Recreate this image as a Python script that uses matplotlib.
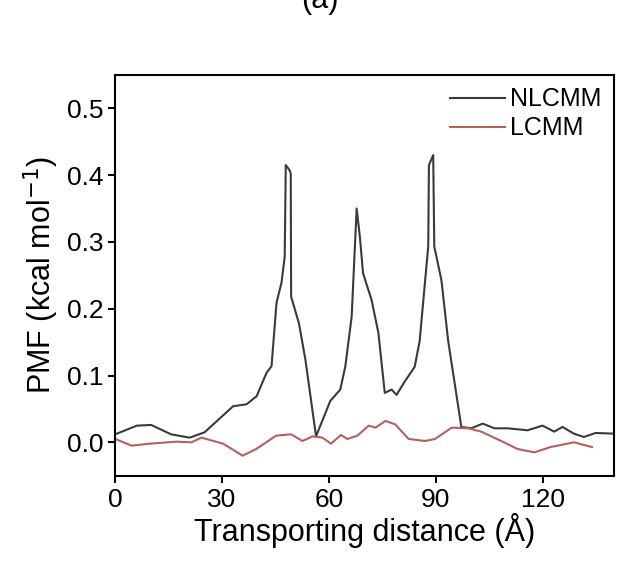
import matplotlib
matplotlib.use("Agg")
import matplotlib.pyplot as plt

nl_x = [0,6.1,10.1,15.7,20.9,25.1,33.1,36.9,39.7,42.5,43.9,45.3,46.7,47.6,47.9,49,49.3,49.4,51.6,53.4,56.4,60.4,63.2,64.6,66.4,67.8,68.7,69.6,72,73.9,75.7,77.6,79,81.3,84.1,85.5,87.9,88.1,89.3,89.6,91.6,93.5,97.2,100,103.2,106.5,110.2,115.8,120,123.3,125.6,128.8,131.6,134.9,140]
nl_y = [0.012,0.025,0.026,0.012,0.007,0.015,0.054,0.057,0.069,0.104,0.114,0.209,0.239,0.278,0.415,0.407,0.402,0.218,0.178,0.124,0.009,0.062,0.079,0.113,0.188,0.350,0.308,0.253,0.213,0.164,0.074,0.079,0.071,0.091,0.113,0.152,0.293,0.415,0.430,0.293,0.243,0.152,0.023,0.021,0.028,0.021,0.021,0.018,0.025,0.016,0.023,0.013,0.008,0.014,0.013]
l_x = [0,4.6,9.8,17.2,21.4,24.2,30.3,35.8,39.6,45.2,49.4,52.6,55.4,58.2,60.6,63.4,65.2,68,71.2,73.1,75.9,78.6,82.4,87,89.8,94.5,99.1,102.8,108.4,113,117.7,122.3,128.8,133.9]
l_y = [0.005,-0.005,-0.002,0.001,0,0.007,-0.002,-0.020,-0.010,0.010,0.012,0.002,0.009,0.007,-0.002,0.011,0.005,0.010,0.025,0.022,0.032,0.027,0.005,0.002,0.005,0.022,0.021,0.016,0.002,-0.010,-0.015,-0.007,0,-0.007]

plt.rcParams['font.family'] = 'Liberation Sans'
fig = plt.figure(figsize=(6.4, 5.63), dpi=100)
ax = fig.add_axes([0.18, 0.155, 0.779, 0.712])
ax.plot(nl_x, nl_y, color='#3a3a3a', lw=1.5, label='NLCMM')
ax.plot(l_x, l_y, color='#b56060', lw=1.5, label='LCMM')
ax.set_xlim(0, 140)
ax.set_ylim(-0.05, 0.55)
ax.set_xticks([0, 30, 60, 90, 120])
ax.set_yticks([0.0, 0.1, 0.2, 0.3, 0.4, 0.5])
ax.tick_params(labelsize=19, width=1.5, length=5)
for s in ax.spines.values():
    s.set_linewidth(1.5)
ax.set_xlabel('Transporting distance (Å)', fontsize=22, labelpad=1)
ax.set_ylabel('PMF (kcal mol$^{-1}$)', fontsize=22, labelpad=4)
ax.legend(loc='upper right', frameon=False, fontsize=18, handlelength=2.2,
          borderaxespad=0.1, labelspacing=0.2, handletextpad=0.2)
fig.text(0.5, 1.0, '(a)', ha='center', va='center', fontsize=22)
fig.savefig('out.png', dpi=100)
